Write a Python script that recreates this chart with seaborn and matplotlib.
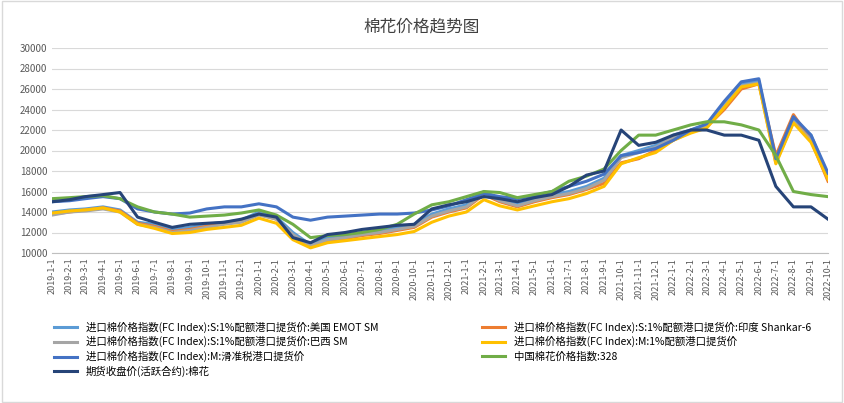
import matplotlib
matplotlib.use("Agg")
import matplotlib.pyplot as plt
from matplotlib import font_manager as fm
import seaborn as sns
import pandas as pd

cjk = [f.name for f in fm.fontManager.ttflist if "CJK SC" in f.name] or \
      [f.name for f in fm.fontManager.ttflist if "CJK" in f.name]
plt.rcParams["font.family"] = "sans-serif"
plt.rcParams["font.sans-serif"] = cjk[:1] + ["Noto Sans CJK SC", "DejaVu Sans"]
plt.rcParams["axes.unicode_minus"] = False

dates = pd.date_range("2019-01-01", "2022-10-01", freq="MS")
tick_labels = [f"{d.year}-{d.month}-1" for d in dates]

us_emot = [14000,14200,14300,14500,14200,13000,12800,12300,12500,12800,13000,13200,
           14000,13500,12000,10800,11500,11700,12000,12200,12500,12800,13800,14300,
           14700,16000,15300,14800,15300,15700,16000,16500,17300,19500,20000,20500,
           21500,22000,22500,24500,26500,26800,19000,23000,21500,17500]
india = [13800,14000,14200,14400,14100,12900,12600,12100,12300,12600,12900,13100,
         13800,13300,11700,10600,11200,11400,11700,11900,12200,12500,13500,14000,
         14400,15700,15000,14500,15000,15400,15700,16200,16800,18800,19200,20000,
         21000,21800,22300,24000,26000,26500,19500,23500,21000,17000]
brazil = [13700,14000,14100,14300,14000,12800,12500,12000,12200,12500,12800,13000,
          13700,13300,11800,10700,11300,11500,11800,12000,12300,12600,13600,14100,
          14500,15800,15100,14600,15100,15500,15800,16300,17100,19300,19800,20300,
          21300,21800,22300,24300,26300,26600,18800,22800,21000,17300]
m_1pct = [13900,14100,14200,14400,14000,12800,12400,11900,12000,12300,12500,12700,
          13400,12900,11300,10500,11000,11200,11400,11600,11800,12100,13000,13600,
          14000,15200,14600,14200,14600,15000,15300,15800,16500,18700,19300,19800,
          21000,21700,22200,24200,26200,26500,18700,22700,20800,17200]
m_slide = [15000,15100,15300,15500,15300,14300,14000,13800,13900,14300,14500,14500,
           14800,14500,13500,13200,13500,13600,13700,13800,13800,13900,14200,14600,
           15200,15800,15500,15300,15600,16000,16500,17000,17700,19500,19800,20200,
           21000,22000,22600,24800,26700,27000,19200,23300,21500,17800]
china328 = [15300,15400,15500,15600,15300,14500,14000,13800,13500,13600,13700,13900,
            14200,13700,12800,11500,11700,11800,12000,12300,12800,13800,14700,15000,
            15500,16000,15900,15400,15700,16000,17000,17500,18200,20000,21500,21500,
            22000,22500,22800,22800,22500,22000,19500,16000,15700,15500]
futures = [15000,15200,15500,15700,15900,13500,13000,12500,12800,12900,13000,13300,
           13800,13500,11500,11000,11800,12000,12300,12500,12700,12800,14300,14700,
           15000,15500,15300,15000,15400,15700,16500,17600,18000,22000,20500,20800,
           21500,22000,22000,21500,21500,21000,16500,14500,14500,13300]

names = ["进口棉价格指数(FC Index):S:1%配额港口提货价:美国 EMOT SM",
         "进口棉价格指数(FC Index):S:1%配额港口提货价:印度 Shankar-6",
         "进口棉价格指数(FC Index):S:1%配额港口提货价:巴西 SM",
         "进口棉价格指数(FC Index):M:1%配额港口提货价",
         "进口棉价格指数(FC Index):M:滑准税港口提货价",
         "中国棉花价格指数:328",
         "期货收盘价(活跃合约):棉花"]
series = [us_emot, india, brazil, m_1pct, m_slide, china328, futures]
colors = ["#5B9BD5", "#ED7D31", "#A5A5A5", "#FFC000", "#4472C4", "#70AD47", "#264478"]

rows = []
for n, s in zip(names, series):
    for d, v in zip(dates, s):
        rows.append((d, v, n))
df = pd.DataFrame(rows, columns=["date", "value", "series"])
df["x"] = (df["date"] - dates[0]).dt.days

fig = plt.figure(figsize=(8.44, 4.03), dpi=100)
ax = fig.add_axes([52/844, 150/403, 776/844, 205/403])
sns.lineplot(data=df, x="x", y="value", hue="series", hue_order=names,
             palette=colors, linewidth=2.2, ax=ax, legend=True)
xt = (dates - dates[0]).days
ax.set_xticks(xt)
ax.set_xticklabels(tick_labels, rotation=90, fontsize=6.5, color="#595959")
ax.set_xlim(xt[0], xt[-1])
ax.set_ylim(10000, 30000)
ax.set_yticks(range(10000, 30001, 2000))
ax.tick_params(axis="y", labelsize=7, colors="#595959", length=0)
ax.tick_params(axis="x", length=0)
ax.grid(axis="y", color="#D9D9D9", linewidth=0.8)
for s in ["top", "right", "left"]:
    ax.spines[s].set_visible(False)
ax.spines["bottom"].set_color("#BFBFBF")
ax.set_xlabel(""); ax.set_ylabel("")
ax.set_axisbelow(True)
h, l = ax.get_legend_handles_labels()
ax.get_legend().remove()
lorder = [0, 2, 4, 6, 1, 3, 5]
fig.legend([h[i] for i in lorder], [l[i] for i in lorder], ncol=2,
           loc="upper left", bbox_to_anchor=(45/844, 1 - 312/403),
           frameon=False, fontsize=7.5, columnspacing=10, handlelength=2.2,
           labelspacing=0.35)
fig.suptitle("棉花价格趋势图", y=0.955, fontsize=12, color="#404040")
fig.patches.append(plt.Rectangle((0.002, 0.002), 0.996, 0.996, transform=fig.transFigure,
                                 fill=False, edgecolor="#D9D9D9", linewidth=1))
fig.savefig("out.png", dpi=100)
